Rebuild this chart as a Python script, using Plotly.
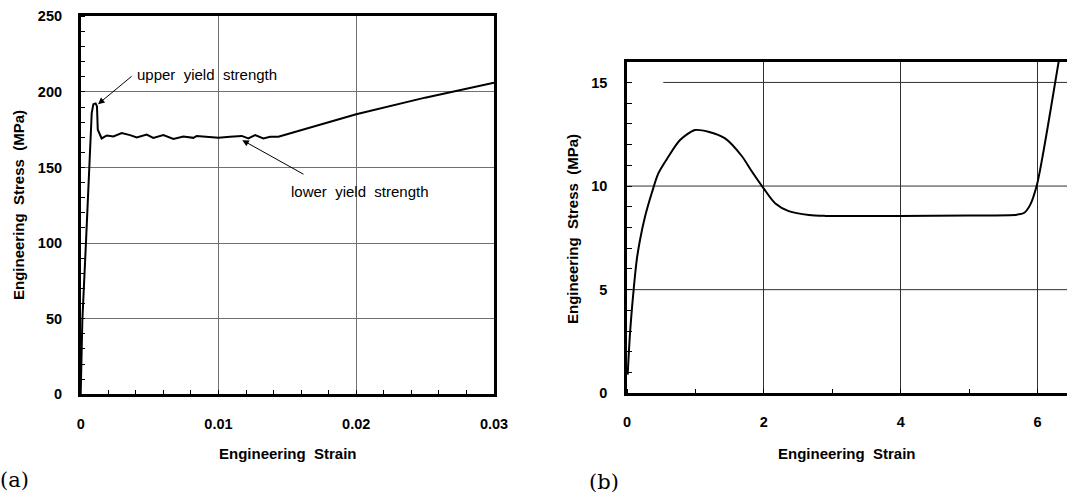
import plotly.graph_objects as go

# ---- Data: panel (a) ----
strain_a = [0, 0.00012, 0.00038, 0.0006, 0.0008, 0.00092, 0.00108, 0.00118, 0.00124,
            0.00152, 0.00189, 0.00237, 0.00298, 0.00358, 0.00407, 0.00479, 0.00527,
            0.00600, 0.00673, 0.00745, 0.00818, 0.00842, 0.00915, 0.01000, 0.01084,
            0.01169, 0.01217, 0.01266, 0.01326, 0.01375, 0.01435, 0.02, 0.025, 0.03]
stress_a = [0, 49, 100, 150, 186, 191.9, 192.4, 190.5, 175,
            169.2, 171.2, 170.5, 172.8, 171.4, 169.8, 171.8, 169.6,
            171.4, 168.9, 170.5, 169.6, 170.9, 170.3, 169.6, 170.3,
            170.9, 169.2, 171.4, 169.2, 170.3, 170.3, 185.2, 196.2, 206.0]

# ---- Data: panel (b) ----
strain_b = [0.01, 0.044, 0.092, 0.142, 0.19, 0.263, 0.361, 0.458, 0.604, 0.775, 0.994,
            1.189, 1.433, 1.677, 1.825, 1.996, 2.168, 2.364, 2.66, 2.9, 4.0,
            5.0, 5.7, 5.80, 5.89, 5.99, 6.09, 6.19, 6.32]
stress_b = [0.9, 2.89, 4.82, 6.43, 7.4, 8.52, 9.65, 10.61, 11.41, 12.22, 12.7,
            12.62, 12.3, 11.45, 10.7, 9.89, 9.16, 8.79, 8.6, 8.56, 8.56,
            8.58, 8.62, 8.7, 9.08, 10.05, 11.74, 13.67, 16.24]

ticks_a_x = [0, 0.01, 0.02, 0.03]
ticks_a_x_text = ["0", "0.01", "0.02", "0.03"]
ticks_a_y = [0, 50, 100, 150, 200, 250]
ticks_b_x = [0, 2, 4, 6]
ticks_b_y = [0, 5, 10, 15]
grid_b_y = [5, 10, 15]
grid_b_y_start = [0, 0, 0.53]

W, H = 1067, 493
FONT = "Liberation Sans"
tickfont = dict(family=FONT, size=14.5, color="black", weight="bold")

fig = go.Figure()
fig.add_trace(go.Scatter(x=strain_a, y=stress_a, mode="lines",
                         line=dict(color="black", width=2), xaxis="x", yaxis="y",
                         showlegend=False, hoverinfo="skip"))
fig.add_trace(go.Scatter(x=strain_b, y=stress_b, mode="lines",
                         line=dict(color="black", width=2, shape="spline", smoothing=0.8),
                         xaxis="x2", yaxis="y2", showlegend=False, hoverinfo="skip"))

axis_common = dict(showline=True, linecolor="black", linewidth=2.5, zeroline=False,
                   ticks="", tickfont=tickfont, automargin=False)

fig.update_layout(
    width=W, height=H,
    margin=dict(l=0, r=0, t=0, b=0, pad=0),
    paper_bgcolor="white", plot_bgcolor="white",
    xaxis=dict(domain=[80.7 / W, 494 / W], range=[0, 0.03], anchor="y",
               tickvals=ticks_a_x, ticktext=ticks_a_x_text, mirror=True,
               showgrid=True, gridcolor="#707070", gridwidth=1,
               ticklabelstandoff=15,
               minor=dict(dtick=0.002, ticks="inside", ticklen=5, tickcolor="black",
                          tickwidth=1, showgrid=False),
               **axis_common),
    yaxis=dict(domain=[1 - 394.3 / H, 1 - 16.3 / H], range=[0, 250], anchor="x",
               tickvals=ticks_a_y, mirror=True,
               showgrid=True, gridcolor="#707070", gridwidth=1,
               ticklabelstandoff=13,
               minor=dict(dtick=10, ticks="inside", ticklen=5, tickcolor="black",
                          tickwidth=1, showgrid=False),
               **axis_common),
    xaxis2=dict(domain=[627 / W, 1.0], range=[0, 6.43], anchor="y2",
                tickvals=ticks_b_x, mirror=True,
                showgrid=True, gridcolor="#303030", gridwidth=1,
                ticklabelstandoff=14,
                minor=dict(dtick=1, ticks="inside", ticklen=5, tickcolor="black",
                           tickwidth=1, showgrid=False),
                **axis_common),
    yaxis2=dict(domain=[1 - 393.3 / H, 1 - 61.7 / H], range=[0, 16], anchor="x2",
                tickvals=ticks_b_y, mirror=False, showgrid=False,
                ticklabelstandoff=14,
                minor=dict(dtick=1, ticks="inside", ticklen=5, tickcolor="black",
                           tickwidth=1, showgrid=False),
                **axis_common),
)

# horizontal grid lines of panel (b)
for gy, gx0 in zip(grid_b_y, grid_b_y_start):
    fig.add_shape(type="line", xref="x2", yref="y2", x0=gx0, x1=6.43, y0=gy, y1=gy,
                  line=dict(color="#303030", width=1), layer="below")

titlefont = dict(family=FONT, size=15, color="black", weight="bold")
ann = []
ann.append(dict(text="Engineering\u00a0\u00a0Strain", xref="paper", yref="paper",
                x=288 / W, y=1 - 453 / H, showarrow=False, font=titlefont,
                xanchor="center", yanchor="middle"))
ann.append(dict(text="Engineering\u00a0\u00a0Stress\u00a0\u00a0(MPa)", xref="paper", yref="paper",
                x=18 / W, y=1 - 205 / H, showarrow=False, font=titlefont, textangle=-90,
                xanchor="center", yanchor="middle"))
ann.append(dict(text="Engineering\u00a0\u00a0Strain", xref="paper", yref="paper",
                x=847 / W, y=1 - 453 / H, showarrow=False, font=titlefont,
                xanchor="center", yanchor="middle"))
ann.append(dict(text="Engineering\u00a0\u00a0Stress\u00a0\u00a0(MPa)", xref="paper", yref="paper",
                x=572 / W, y=1 - 229 / H, showarrow=False, font=titlefont, textangle=-90,
                xanchor="center", yanchor="middle"))
labfont = dict(family="DejaVu Serif", size=21, color="black")
ann.append(dict(text="(a)", xref="paper", yref="paper", x=14 / W, y=1 - 480 / H,
                showarrow=False, font=labfont, xanchor="center", yanchor="middle"))
ann.append(dict(text="(b)", xref="paper", yref="paper", x=604 / W, y=1 - 482 / H,
                showarrow=False, font=labfont, xanchor="center", yanchor="middle"))
notefont = dict(family=FONT, size=15, color="black")
ann.append(dict(text="upper\u00a0\u00a0yield\u00a0\u00a0strength", xref="x", yref="y",
                x=0.0092, y=211.7, showarrow=False, font=notefont,
                xanchor="center", yanchor="middle"))
ann.append(dict(text="lower\u00a0\u00a0yield\u00a0\u00a0strength", xref="x", yref="y",
                x=0.0203, y=134.4, showarrow=False, font=notefont,
                xanchor="center", yanchor="middle"))
ann.append(dict(text="", xref="x", yref="y", axref="x", ayref="y",
                x=0.00126, y=191.9, ax=0.0038, ay=211.1, showarrow=True,
                arrowhead=2, arrowsize=1.3, arrowwidth=1, arrowcolor="black",
                standoff=0, startstandoff=0))
ann.append(dict(text="", xref="x", yref="y", axref="x", ayref="y",
                x=0.01173, y=168.1, ax=0.01628, ay=145.0, showarrow=True,
                arrowhead=2, arrowsize=1.3, arrowwidth=1, arrowcolor="black",
                standoff=0, startstandoff=0))
fig.update_layout(annotations=ann)

fig.write_html("out.html")
